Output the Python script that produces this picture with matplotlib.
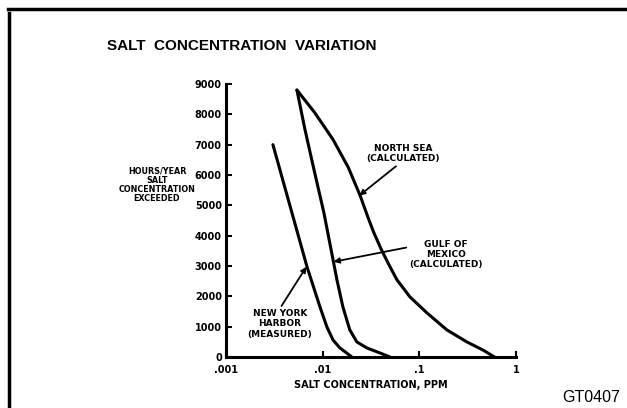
import numpy as np
import matplotlib.pyplot as plt
from matplotlib.lines import Line2D
from matplotlib.ticker import FixedLocator, NullFormatter

# values (salt concentration in ppm, hours/year)
ny_ppm = [0.00306, 0.00689, 0.00938, 0.01107, 0.0128, 0.0151, 0.0201]
ny_hours = [7000, 2975, 1653, 992, 562, 298, 0]

gulf_ppm = [0.00542, 0.00656, 0.00813, 0.0103, 0.01406, 0.0162,
            0.0191, 0.0226, 0.0287, 0.0392, 0.0497]
gulf_hours = [8800, 7505, 6182, 4760, 2545, 1653, 893, 496, 298, 132, 0]

north_ppm = [0.00542, 0.00824, 0.01278, 0.01844, 0.02442, 0.02927, 0.03385,
             0.04056, 0.04792, 0.0587, 0.0799, 0.1199, 0.1929, 0.3107, 0.4547, 0.60]
north_hours = [8800, 8066, 7174, 6248, 5323, 4628, 4099, 3537, 3075, 2545,
               1984, 1455, 893, 496, 231, 0]

y_ticks = [0, 1000, 2000, 3000, 4000, 5000, 6000, 7000, 8000, 9000]
x_ticks = [0.001, 0.01, 0.1, 1]
x_tick_labels = [".001", ".01", ".1", "1"]

fig = plt.figure(figsize=(6.27, 4.08), dpi=100)
ax = fig.add_axes([0.3604, 0.125, 0.4625, 0.6691])

lw = 2.2
for xs, ys in [(ny_ppm, ny_hours), (gulf_ppm, gulf_hours), (north_ppm, north_hours)]:
    ax.plot(xs, ys, color="black", linewidth=lw,
            solid_joinstyle="round", solid_capstyle="round")

ax.set_xscale("log")
ax.set_xlim(0.001, 1)
ax.set_ylim(0, 9000)

for side in ["top", "right"]:
    ax.spines[side].set_visible(False)
for side in ["left", "bottom"]:
    ax.spines[side].set_linewidth(2.2)

ax.set_yticks(y_ticks)
ax.set_yticklabels([str(v) for v in y_ticks], fontsize=7, fontweight="bold")
ax.set_xticks(x_ticks)
ax.set_xticklabels(x_tick_labels, fontsize=7, fontweight="bold")
ax.xaxis.set_minor_locator(FixedLocator([]))
ax.xaxis.set_minor_formatter(NullFormatter())
ax.tick_params(direction="in", length=4, width=1.5, pad=3)
ax.tick_params(axis="x", pad=6)

ax.set_xlabel("SALT CONCENTRATION, PPM", fontsize=7, fontweight="bold", labelpad=3)

# y label placed as a free text block left of the axis
fig.text(157 / 627, 1 - 185 / 408, "HOURS/YEAR\nSALT\nCONCENTRATION\nEXCEEDED",
         ha="center", va="center", fontsize=5.8, fontweight="bold", linespacing=1.0)

fig.text(242 / 627, 1 - 46 / 408, "SALT  CONCENTRATION  VARIATION",
         ha="center", va="center", fontsize=11, fontweight="bold",
         family=["Liberation Sans", "DejaVu Sans"])

fig.text(562 / 627, 1 - 397 / 408, "GT0407", ha="left", va="center",
         fontsize=11.5, family=["Liberation Sans", "DejaVu Sans"])

arrow = dict(arrowstyle="-|>", color="black", lw=1.3, mutation_scale=8,
             shrinkA=0, shrinkB=0)

ax.annotate("NORTH SEA\n(CALCULATED)", xy=(0.0240, 5323), xytext=(0.068, 6700),
            fontsize=6.5, fontweight="bold", ha="center", va="center",
            arrowprops=dict(arrow, relpos=(0.45, 0.0)))
ax.annotate("GULF OF\nMEXICO\n(CALCULATED)", xy=(0.0130, 3140), xytext=(0.188, 3380),
            fontsize=6.5, fontweight="bold", ha="center", va="center",
            arrowprops=dict(arrow, relpos=(0.0, 0.75)))
ax.annotate("NEW YORK\nHARBOR\n(MEASURED)", xy=(0.0068, 2975), xytext=(0.0036, 1100),
            fontsize=6.5, fontweight="bold", ha="center", va="center",
            arrowprops=dict(arrow, relpos=(0.5, 1.0)))

# frame lines around the figure like the scanned page
fig.add_artist(Line2D([8 / 627, 1.0], [1 - 9 / 408, 1 - 9 / 408],
                      transform=fig.transFigure, color="black", linewidth=2.5))
fig.add_artist(Line2D([9 / 627, 9 / 627], [1 - 13 / 408, 0.0],
                      transform=fig.transFigure, color="black", linewidth=2.5))

fig.savefig("out.png", dpi=100)
